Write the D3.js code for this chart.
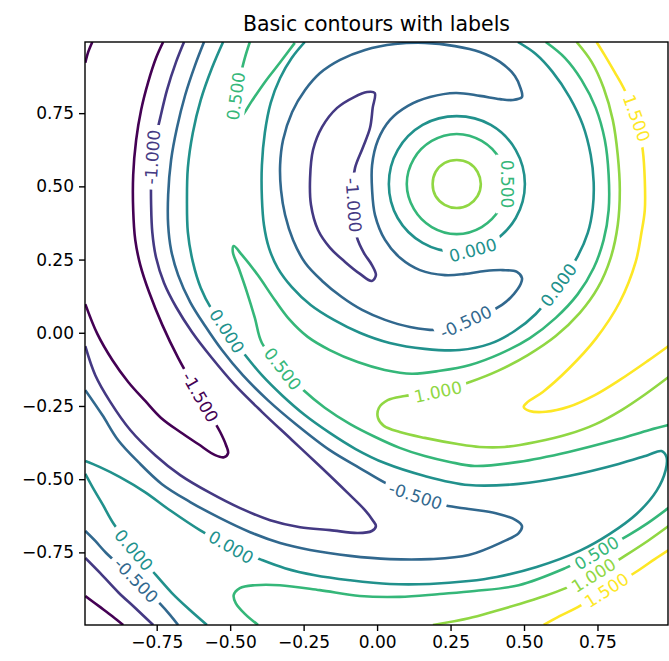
<!DOCTYPE html>
<html>
<head>
<meta charset="utf-8">
<script src="https://cdn.jsdelivr.net/npm/d3@7"></script>
<style>
  body { margin: 0; background: #fff; }
  svg { display: block; font-family: 'DejaVu Sans', sans-serif; }
</style>
</head>
<body>
<div id="chart"></div>
<script>
// Contour levels & viridis colours
var levels = [-1.5, -1.0, -0.5, 0.0, 0.5, 1.0, 1.5]
var levelColors = ['#440154', '#443983', '#31688e', '#21918c', '#35b779', '#90d743', '#fde725']

// Axis ticks
var xTicks = [-0.75, -0.5, -0.25, 0, 0.25, 0.5, 0.75]
var yTicks = [-0.75, -0.5, -0.25, 0, 0.25, 0.5, 0.75]
var xDomain = [-0.994, 0.99]
var yDomain = [-0.998, 0.993]

// Contour lines, [x, y] in data units
// Level -1.5
var m15Corner = [[-0.993,0.922],[-0.983,0.959],[-0.969,0.993]]
var m15Arc = [[-0.728,0.993],[-0.752,0.939],[-0.779,0.856],[-0.803,0.761],[-0.820,0.658],[-0.830,0.539],[-0.830,0.419],[-0.823,0.317],[-0.806,0.232],[-0.776,0.139],[-0.731,0.027],[-0.677,-0.086],[-0.602,-0.220],[-0.534,-0.339],[-0.514,-0.384],[-0.507,-0.411],[-0.521,-0.425],[-0.551,-0.418],[-0.609,-0.380],[-0.670,-0.339],[-0.735,-0.291],[-0.789,-0.233],[-0.847,-0.168],[-0.901,-0.093],[-0.952,-0.004],[-0.993,0.098]]
var m15Bottom = [[-0.993,-0.899],[-0.942,-0.937],[-0.901,-0.968],[-0.864,-0.998]]

// Level -1.0
var m10Crescent = [[-0.008,0.819],[-0.015,0.768],[-0.024,0.700],[-0.049,0.631],[-0.075,0.563],[-0.082,0.488],[-0.078,0.402],[-0.068,0.324],[-0.045,0.273],[-0.018,0.232],[-0.004,0.197],[-0.018,0.177],[-0.058,0.201],[-0.109,0.242],[-0.160,0.290],[-0.201,0.351],[-0.225,0.437],[-0.228,0.529],[-0.218,0.624],[-0.187,0.703],[-0.136,0.768],[-0.078,0.805],[-0.034,0.822]]
var m10Arc = [[-0.657,0.993],[-0.684,0.925],[-0.715,0.829],[-0.738,0.734],[-0.755,0.658],[-0.765,0.590],[-0.769,0.522],[-0.769,0.437],[-0.765,0.344],[-0.752,0.256],[-0.725,0.170],[-0.684,0.088],[-0.630,0.003],[-0.562,-0.086],[-0.484,-0.178],[-0.392,-0.270],[-0.290,-0.366],[-0.188,-0.462],[-0.100,-0.547],[-0.042,-0.605],[-0.015,-0.640],[-0.004,-0.660],[-0.018,-0.677],[-0.065,-0.684],[-0.160,-0.674],[-0.262,-0.664],[-0.364,-0.640],[-0.466,-0.599],[-0.568,-0.547],[-0.670,-0.486],[-0.755,-0.418],[-0.840,-0.332],[-0.908,-0.236],[-0.959,-0.145],[-0.993,-0.046]]
var m10Bottom = [[-0.993,-0.769],[-0.942,-0.821],[-0.881,-0.886],[-0.823,-0.940],[-0.762,-0.998]]

// Level -0.5
var m05Band = [[0.493,0.805],[0.489,0.833],[0.469,0.877],[0.418,0.925],[0.350,0.959],[0.265,0.979],[0.163,0.990],[0.061,0.986],[-0.041,0.966],[-0.126,0.932],[-0.194,0.887],[-0.245,0.829],[-0.289,0.754],[-0.320,0.658],[-0.330,0.573],[-0.327,0.488],[-0.313,0.402],[-0.286,0.317],[-0.245,0.239],[-0.187,0.177],[-0.120,0.122],[-0.051,0.078],[0.027,0.044],[0.112,0.020],[0.207,0.010],[0.302,0.037],[0.425,0.095],[0.466,0.133],[0.489,0.167],[0.493,0.187],[0.476,0.208],[0.428,0.214],[0.367,0.211],[0.299,0.201],[0.231,0.197],[0.146,0.214],[0.078,0.256],[0.027,0.317],[-0.007,0.402],[-0.017,0.488],[-0.017,0.573],[0.003,0.658],[0.044,0.727],[0.105,0.775],[0.180,0.805],[0.268,0.819],[0.350,0.809],[0.418,0.798],[0.462,0.795]]
var m05Arc = [[-0.589,0.993],[-0.619,0.915],[-0.653,0.812],[-0.681,0.700],[-0.701,0.590],[-0.711,0.471],[-0.711,0.368],[-0.701,0.283],[-0.677,0.197],[-0.636,0.105],[-0.585,0.023],[-0.528,-0.059],[-0.457,-0.145],[-0.372,-0.230],[-0.273,-0.315],[-0.161,-0.401],[-0.059,-0.462],[0.036,-0.517],[0.131,-0.557],[0.231,-0.589],[0.312,-0.602],[0.404,-0.616],[0.472,-0.640],[0.493,-0.660],[0.482,-0.684],[0.425,-0.715],[0.312,-0.759],[0.180,-0.773],[0.044,-0.773],[-0.092,-0.762],[-0.228,-0.742],[-0.330,-0.718],[-0.432,-0.681],[-0.534,-0.633],[-0.636,-0.578],[-0.732,-0.517],[-0.813,-0.441],[-0.881,-0.367],[-0.935,-0.281],[-0.993,-0.196]]
var m05Bottom = [[-0.993,-0.677],[-0.959,-0.711],[-0.922,-0.752],[-0.820,-0.845],[-0.738,-0.926],[-0.704,-0.964],[-0.677,-0.998]]

// Level 0.0
var z00Ring = [[0.503,0.508],[0.472,0.624],[0.387,0.710],[0.271,0.740],[0.155,0.710],[0.070,0.624],[0.040,0.508],[0.070,0.392],[0.155,0.307],[0.271,0.276],[0.387,0.307],[0.472,0.392]]
var z00C = [[-0.246,0.993],[-0.290,0.939],[-0.330,0.870],[-0.362,0.785],[-0.382,0.683],[-0.392,0.573],[-0.392,0.460],[-0.385,0.368],[-0.368,0.290],[-0.338,0.221],[-0.290,0.156],[-0.226,0.095],[-0.147,0.044],[-0.059,0.000],[0.043,-0.035],[0.162,-0.055],[0.281,-0.059],[0.383,-0.038],[0.468,0.006],[0.540,0.064],[0.618,0.163],[0.683,0.262],[0.717,0.341],[0.734,0.426],[0.737,0.515],[0.727,0.607],[0.700,0.710],[0.655,0.805],[0.597,0.891],[0.540,0.952],[0.479,0.993]]
var z00Arc = [[-0.524,0.993],[-0.562,0.904],[-0.600,0.795],[-0.627,0.683],[-0.644,0.563],[-0.647,0.454],[-0.644,0.344],[-0.627,0.242],[-0.600,0.153],[-0.562,0.078],[-0.511,0.006],[-0.457,-0.066],[-0.392,-0.145],[-0.321,-0.216],[-0.246,-0.281],[-0.161,-0.342],[-0.073,-0.397],[0.026,-0.445],[0.162,-0.489],[0.312,-0.520],[0.482,-0.516],[0.652,-0.489],[0.822,-0.448],[0.921,-0.418],[0.968,-0.404],[0.985,-0.425],[0.982,-0.469],[0.951,-0.540],[0.883,-0.619],[0.792,-0.687],[0.689,-0.745],[0.543,-0.800],[0.407,-0.834],[0.312,-0.848],[0.179,-0.858],[0.043,-0.858],[-0.093,-0.845],[-0.212,-0.828],[-0.314,-0.804],[-0.392,-0.776],[-0.497,-0.732],[-0.603,-0.674],[-0.705,-0.606],[-0.790,-0.544],[-0.875,-0.493],[-0.943,-0.459],[-0.993,-0.438]]
var z00Bottom = [[-0.993,-0.482],[-0.967,-0.530],[-0.933,-0.588],[-0.896,-0.653],[-0.828,-0.742],[-0.753,-0.827],[-0.698,-0.889],[-0.637,-0.947],[-0.579,-0.998]]

// Level 0.5
var p05Ring = [[0.441,0.508],[0.417,0.594],[0.356,0.655],[0.271,0.679],[0.186,0.655],[0.125,0.594],[0.101,0.508],[0.125,0.423],[0.186,0.361],[0.271,0.337],[0.356,0.361],[0.417,0.423]]
var p05Finger = [[-0.433,0.993],[-0.450,0.939],[-0.467,0.870],[-0.481,0.802],[-0.488,0.751],[-0.481,0.723],[-0.460,0.740],[-0.426,0.792],[-0.379,0.860],[-0.331,0.922],[-0.280,0.990]]
var p05Arc = [[0.574,0.993],[0.639,0.939],[0.696,0.863],[0.744,0.768],[0.775,0.658],[0.788,0.539],[0.788,0.419],[0.771,0.317],[0.737,0.221],[0.683,0.132],[0.608,0.051],[0.520,-0.018],[0.418,-0.072],[0.316,-0.110],[0.214,-0.130],[0.118,-0.140],[0.026,-0.127],[-0.066,-0.100],[-0.161,-0.059],[-0.236,-0.014],[-0.297,0.044],[-0.348,0.112],[-0.406,0.197],[-0.460,0.266],[-0.488,0.296],[-0.491,0.276],[-0.471,0.221],[-0.443,0.139],[-0.416,0.051],[-0.392,-0.035],[-0.321,-0.123],[-0.253,-0.194],[-0.178,-0.256],[-0.093,-0.311],[-0.008,-0.355],[0.077,-0.393],[0.162,-0.421],[0.247,-0.441],[0.332,-0.455],[0.482,-0.441],[0.652,-0.407],[0.822,-0.363],[0.927,-0.332],[0.992,-0.315]]
var p05Bottom = [[-0.405,-0.998],[-0.450,-0.960],[-0.481,-0.923],[-0.488,-0.896],[-0.467,-0.872],[-0.416,-0.862],[-0.331,-0.862],[-0.195,-0.879],[-0.059,-0.899],[0.077,-0.902],[0.213,-0.892],[0.332,-0.882],[0.482,-0.862],[0.642,-0.803],[0.747,-0.752],[0.856,-0.691],[0.921,-0.650],[0.992,-0.598]]

// Level 1.0
var p10Ring = [[0.353,0.508],[0.342,0.549],[0.312,0.580],[0.271,0.590],[0.230,0.580],[0.199,0.549],[0.189,0.508],[0.199,0.467],[0.230,0.437],[0.271,0.426],[0.312,0.437],[0.342,0.467]]
var p10Finger = [[0.679,0.993],[0.730,0.925],[0.771,0.836],[0.802,0.727],[0.819,0.607],[0.826,0.488],[0.819,0.368],[0.795,0.256],[0.751,0.153],[0.690,0.068],[0.608,-0.011],[0.513,-0.076],[0.411,-0.130],[0.316,-0.168],[0.207,-0.202],[0.094,-0.216],[0.036,-0.230],[0.006,-0.257],[0.003,-0.291],[0.023,-0.318],[0.077,-0.339],[0.162,-0.359],[0.274,-0.380],[0.349,-0.390],[0.434,-0.390],[0.540,-0.373],[0.652,-0.346],[0.744,-0.312],[0.832,-0.264],[0.914,-0.209],[0.992,-0.151]]
var p10Bottom = [[0.190,-0.998],[0.312,-0.975],[0.400,-0.951],[0.482,-0.927],[0.570,-0.899],[0.642,-0.872],[0.737,-0.828],[0.843,-0.762],[0.921,-0.711],[0.992,-0.660]]

// Level 1.5
var p15Finger = [[0.747,0.993],[0.774,0.949],[0.808,0.891],[0.839,0.836],[0.883,0.733],[0.904,0.624],[0.911,0.522],[0.911,0.419],[0.900,0.344],[0.880,0.242],[0.826,0.105],[0.744,-0.021],[0.652,-0.123],[0.564,-0.202],[0.513,-0.236],[0.499,-0.253],[0.519,-0.267],[0.574,-0.270],[0.652,-0.253],[0.741,-0.213],[0.826,-0.161],[0.921,-0.096],[0.992,-0.045]]
var p15Bottom = [[0.567,-0.998],[0.621,-0.968],[0.683,-0.937],[0.781,-0.879],[0.890,-0.811],[0.945,-0.773],[0.992,-0.742]]

// Inline labels: [x, y, angle]
var contours = [
  {level: -1.5, pts: m15Corner},
  {level: -1.5, pts: m15Arc, labels: [[-0.602, -0.220, 60]]},
  {level: -1.5, pts: m15Bottom},
  {level: -1.0, pts: m10Crescent, closed: true, labels: [[-0.080, 0.436, 86]]},
  {level: -1.0, pts: m10Arc, labels: [[-0.765, 0.600, -86]]},
  {level: -1.0, pts: m10Bottom},
  {level: -0.5, pts: m05Band, closed: true, labels: [[0.302, 0.037, -25]]},
  {level: -0.5, pts: m05Arc, labels: [[0.131, -0.557, 18]]},
  {level: -0.5, pts: m05Bottom, labels: [[-0.820, -0.845, 46]]},
  {level: 0.0, pts: z00Ring, closed: true, labels: [[0.326, 0.282, -15]]},
  {level: 0.0, pts: z00C, labels: [[0.618, 0.163, -54]]},
  {level: 0.0, pts: z00Arc, labels: [[-0.511, 0.006, 57], [-0.497, -0.732, 30]]},
  {level: 0.0, pts: z00Bottom, labels: [[-0.828, -0.742, 49]]},
  {level: 0.5, pts: p05Ring, closed: true, labels: [[0.441, 0.508, 90]]},
  {level: 0.5, pts: p05Finger, labels: [[-0.481, 0.808, -82]]},
  {level: 0.5, pts: p05Arc, labels: [[-0.321, -0.123, 52]]},
  {level: 0.5, pts: p05Bottom, labels: [[0.747, -0.752, -31]]},
  {level: 1.0, pts: p10Ring, closed: true},
  {level: 1.0, pts: p10Finger, labels: [[0.207, -0.202, -12]]},
  {level: 1.0, pts: p10Bottom, labels: [[0.737, -0.828, -32]]},
  {level: 1.5, pts: p15Finger, labels: [[0.883, 0.733, 70]]},
  {level: 1.5, pts: p15Bottom, labels: [[0.781, -0.879, -33]]}
]

var W = 669, H = 661
var plot = {left: 85, top: 42, right: 668, bottom: 625}

var svg = d3.select('#chart').append('svg')
  .attr('width', W)
  .attr('height', H)

svg.append('rect')
  .attr('width', W)
  .attr('height', H)
  .attr('fill', '#fff')

// Scales
var x = d3.scaleLinear().domain(xDomain).range([plot.left, plot.right])
var y = d3.scaleLinear().domain(yDomain).range([plot.bottom, plot.top])
var color = d3.scaleOrdinal().domain(levels).range(levelColors)

var defs = svg.append('defs')
defs.append('clipPath')
  .attr('id', 'plot-area')
  .append('rect')
  .attr('x', plot.left)
  .attr('y', plot.top)
  .attr('width', plot.right - plot.left)
  .attr('height', plot.bottom - plot.top)

var line = d3.line()
  .x(d => x(d[0]))
  .y(d => y(d[1]))
  .curve(d3.curveCatmullRom.alpha(0.5))

var lineClosed = d3.line()
  .x(d => x(d[0]))
  .y(d => y(d[1]))
  .curve(d3.curveCatmullRomClosed.alpha(0.5))

var lines = svg.append('g').attr('clip-path', 'url(#plot-area)')
var texts = svg.append('g')

function place(l) {
  return 'translate(' + x(l[0]) + ',' + y(l[1]) + ') rotate(' + l[2] + ')'
}

contours.forEach(function(c, i) {
  // Label first, so the gap can be sized to it
  var gaps = (c.labels || []).map(function(l) {
    var t = texts.append('text')
      .attr('transform', place(l))
      .attr('text-anchor', 'middle')
      .attr('dy', '0.36em')
      .attr('fill', color(c.level))
      .style('font-size', '17px')
      .text(c.level.toFixed(3))
    return {l: l, w: t.node().getComputedTextLength()}
  })

  var path = lines.append('path')
    .attr('d', (c.closed ? lineClosed : line)(c.pts))
    .attr('fill', 'none')
    .attr('stroke', color(c.level))
    .attr('stroke-width', 2.6)

  if (!gaps.length) return

  // Break the line under its own labels only
  var mask = defs.append('mask')
    .attr('id', 'gap' + i)
    .attr('maskUnits', 'userSpaceOnUse')
    .attr('x', 0).attr('y', 0)
    .attr('width', W).attr('height', H)
  mask.append('rect').attr('width', W).attr('height', H).attr('fill', '#fff')
  gaps.forEach(function(g) {
    mask.append('rect')
      .attr('x', -g.w / 2 - 5)
      .attr('y', -11)
      .attr('width', g.w + 10)
      .attr('height', 22)
      .attr('transform', place(g.l))
      .attr('fill', '#000')
  })
  path.attr('mask', 'url(#gap' + i + ')')
})

// Axes
var xAxis = d3.axisBottom(x)
  .tickValues(xTicks)
  .tickFormat(d3.format('.2f'))
  .tickSize(6)
  .tickPadding(5)

var yAxis = d3.axisLeft(y)
  .tickValues(yTicks)
  .tickFormat(d3.format('.2f'))
  .tickSize(6)
  .tickPadding(5)

var gx = svg.append('g')
  .attr('transform', 'translate(0,' + plot.bottom + ')')
  .call(xAxis)
var gy = svg.append('g')
  .attr('transform', 'translate(' + plot.left + ',0)')
  .call(yAxis)

svg.selectAll('.domain').remove()
svg.selectAll('.tick line').attr('stroke', '#000').attr('stroke-width', 1.4)
svg.selectAll('.tick text')
  .attr('fill', '#000')
  .style('font-family', "'DejaVu Sans', sans-serif")
  .style('font-size', '17px')

// Frame
svg.append('rect')
  .attr('x', plot.left)
  .attr('y', plot.top)
  .attr('width', plot.right - plot.left)
  .attr('height', plot.bottom - plot.top)
  .attr('fill', 'none')
  .attr('stroke', '#000')
  .attr('stroke-width', 1.4)

// Title
svg.append('text')
  .attr('x', (plot.left + plot.right) / 2)
  .attr('y', 31)
  .attr('text-anchor', 'middle')
  .style('font-size', '20.5px')
  .text('Basic contours with labels')
</script>
</body>
</html>
